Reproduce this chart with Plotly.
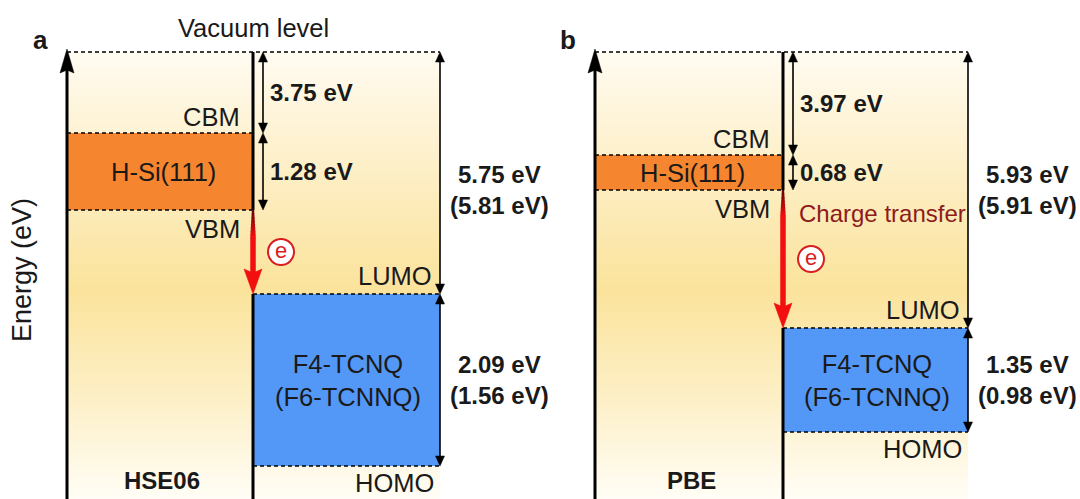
import numpy as np
import plotly.graph_objects as go

# ---------------- data ----------------
panel_letters = ["a", "b"]
methods = ["HSE06", "PBE"]
level_names = ["CBM", "VBM", "LUMO", "HOMO"]
vac_to_cbm_ev = ["3.75 eV", "3.97 eV"]
band_gap_ev = ["1.28 eV", "0.68 eV"]
vac_to_lumo_ev = [["5.75 eV", "(5.81 eV)"], ["5.93 eV", "(5.91 eV)"]]
homo_lumo_gap_ev = [["2.09 eV", "(1.56 eV)"], ["1.35 eV", "(0.98 eV)"]]
# schematic (not-to-scale) depth of each level below the vacuum level
schematic_levels_a = [81, 158, 242, 414]
schematic_levels_b = [103, 138, 276, 380]
substrate_label = "H-Si(111)"
molecule_label = "F4-TCNQ<br>(F6-TCNNQ)"
extra_label = ["", "Charge transfer"]

# ---------------- geometry / style ----------------
W, H = 1080, 499
TOP = 52                       # pixel row of the vacuum level
Y_BOTTOM = H - TOP
panel_cols = [(67, 253, 440), (595, 783, 968)]   # left edge, mid line, right arrow
vac_lumo_label_y = [138, 138]
FONT = "Arial, Liberation Sans, sans-serif"
TXT = "#1a1a1a"
ORANGE = "#F6852F"
BLUE = "#5397F7"
RED = "#F20F0F"
REG = 25.5

fig = go.Figure()
shapes = []
ann = []

def line(x0, y0, x1, y1, color="black", width=1.5, dash="solid"):
    shapes.append(dict(type="line", xref="x", yref="y", x0=x0, y0=y0, x1=x1, y1=y1,
                       line=dict(color=color, width=width, dash=dash)))

def head(x, ytip, direction, length=10, half=4.5, notch=0, color="black"):
    yb = ytip - direction * length
    yn = yb + direction * notch
    path = f"M {x} {ytip} L {x-half} {yb} L {x} {yn} L {x+half} {yb} Z"
    shapes.append(dict(type="path", xref="x", yref="y", path=path,
                       fillcolor=color, line=dict(color=color, width=0.5)))

def double_arrow(x, ya, yb, length=10, half=4.5):
    line(x, ya + length - 1, x, yb - length + 1, width=1.6)
    head(x, ya, -1, length, half)
    head(x, yb, +1, length, half)

def text(x, y, s, size=REG, bold=False, xanchor="center", color=TXT, angle=0):
    ann.append(dict(x=x, y=y, xref="x", yref="y", text=f"<b>{s}</b>" if bold else s,
                    showarrow=False, xanchor=xanchor, yanchor="middle", textangle=angle,
                    font=dict(family=FONT, size=size, color=color)))

# background gradient (vertical) behind each panel
ny = 120
y_edges = np.linspace(0, Y_BOTTOM, ny + 1)
y_cent = 0.5 * (y_edges[:-1] + y_edges[1:])
zcol = y_cent / Y_BOTTOM
bg_scale = [[0.0, "#FFFBF1"], [0.17, "#FEF3D5"], [0.53, "#FBE39C"],
            [0.78, "#FDF0C8"], [1.0, "#FFFDF6"]]
for (xl, xm, xr) in panel_cols:
    fig.add_trace(go.Heatmap(x=[xl, xr], y=y_edges, z=zcol.reshape(-1, 1),
                             colorscale=bg_scale, zmin=0, zmax=1, showscale=False,
                             hoverinfo="skip", zsmooth="best"))

levels_all = [schematic_levels_a, schematic_levels_b]
e_x, e_y = [], []
for i, (xl, xm, xr) in enumerate(panel_cols):
    cbm, vbm, lumo, homo = levels_all[i]
    shapes.append(dict(type="rect", xref="x", yref="y", x0=xl, x1=xm, y0=cbm, y1=vbm,
                       fillcolor=ORANGE, line=dict(width=0)))
    shapes.append(dict(type="rect", xref="x", yref="y", x0=xm, x1=xr, y0=lumo, y1=homo,
                       fillcolor=BLUE, line=dict(width=0)))
    d = "4px,3px"
    line(xl, 0, xr, 0, width=1.5, dash=d)
    line(xl, cbm, xm, cbm, width=1.5, dash=d)
    line(xl, vbm, xm, vbm, width=1.5, dash=d)
    line(xm, lumo, xr, lumo, width=1.5, dash=d)
    line(xm, homo, xr, homo, width=1.5, dash=d)
    # energy axis arrow
    line(xl, Y_BOTTOM + 5, xl, 18, width=3)
    head(xl, -3, -1, length=24, half=7, notch=3)
    # middle interface line
    line(xm, 0, xm, vbm, width=3)
    line(xm, lumo, xm, Y_BOTTOM + 5, width=3)
    # red charge-transfer arrow with darker, thinner start
    nseg = 8
    seg_len = 3.5
    for k in range(nseg):
        t = (k + 1) / nseg
        r = int(90 + (242 - 90) * t)
        c = f"rgb({r},{int(15*t)},{int(15*t)})"
        line(xm, vbm + k * seg_len, xm, vbm + (k + 1) * seg_len + 0.5, color=c,
             width=2 + 3.5 * t)
    line(xm, vbm + nseg * seg_len, xm, lumo - 18, color=RED, width=5.5)
    head(xm, lumo, +1, length=25, half=9, notch=4, color=RED)
    # dimension arrows
    double_arrow(xm + 10, 0, cbm)
    double_arrow(xm + 10, cbm, vbm)
    double_arrow(xr, 0, lumo)
    double_arrow(xr, lumo, homo)
    # labels
    text(xl - 27, -12, panel_letters[i], size=26, bold=True)
    text(xm - 11, cbm - 16, level_names[0], xanchor="right")
    text(xm - 11, vbm + 19, level_names[1], xanchor="right")
    text(xr - 6, lumo - 18, level_names[2], xanchor="right")
    text(xr - 4, homo + 17, level_names[3], xanchor="right")
    text((xl + xm) / 2 + 3, (cbm + vbm) / 2, substrate_label)
    text((xm + xr) / 2 + 1, (lumo + homo) / 2, molecule_label)
    text(xm + 15, cbm / 2, vac_to_cbm_ev[i], size=24, bold=True, xanchor="left")
    text(xm + 15, (cbm + vbm) / 2, band_gap_ev[i], size=24, bold=True, xanchor="left")
    text(xr + 59, vac_lumo_label_y[i], "<br>".join(vac_to_lumo_ev[i]), size=24, bold=True)
    text(xr + 59, (lumo + homo) / 2, "<br>".join(homo_lumo_gap_ev[i]), size=24, bold=True)
    text((xl + xm) / 2 + 2, 428, methods[i], size=24, bold=True)
    if extra_label[i]:
        text(xm + 14, vbm + 23, extra_label[i], size=24, xanchor="left", color="#8E1B1B")
    e_x.append(xm + 28)
    e_y.append((vbm + lumo) / 2)

text(253, -24, "Vacuum level", size=25.5)
text(22, 218, "Energy (eV)", size=27, angle=-90)

fig.add_trace(go.Scatter(x=e_x, y=e_y, mode="markers+text", text=["e", "e"],
                         textposition="middle center",
                         textfont=dict(family=FONT, size=22, color="#D81E1E"),
                         marker=dict(size=26, color="white",
                                     line=dict(color="#D81E1E", width=2)),
                         hoverinfo="skip", showlegend=False))

fig.update_layout(
    width=W, height=H, margin=dict(l=0, r=0, t=0, b=0),
    paper_bgcolor="white", plot_bgcolor="white", showlegend=False,
    xaxis=dict(range=[0, W], visible=False, fixedrange=True),
    yaxis=dict(range=[Y_BOTTOM, -TOP], visible=False, fixedrange=True),
    shapes=shapes, annotations=ann,
)
fig.write_html("out.html")
